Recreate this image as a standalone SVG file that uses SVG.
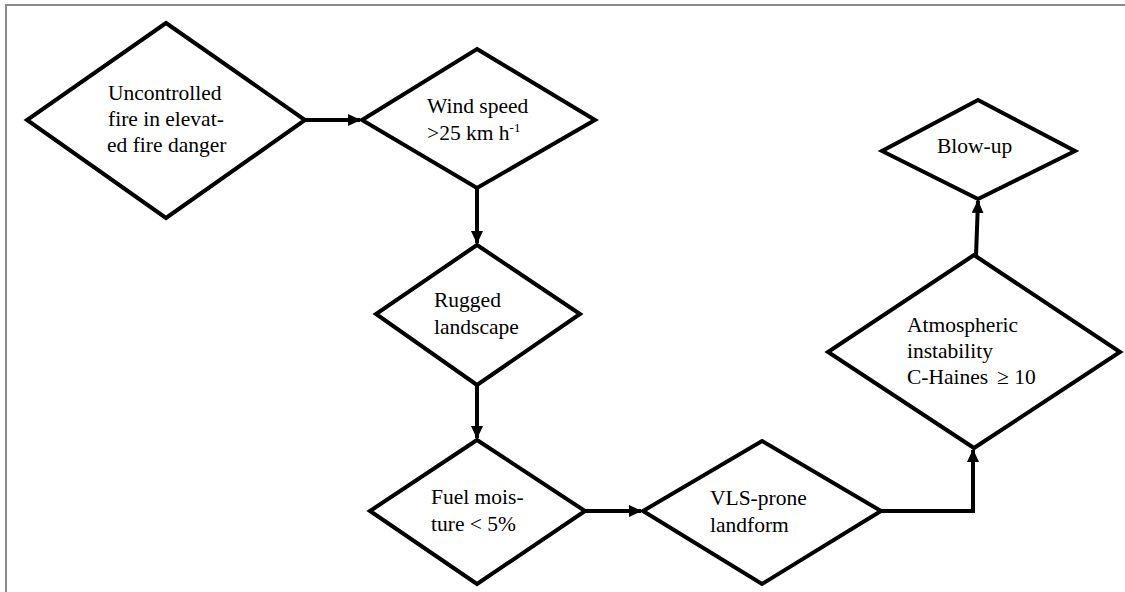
<svg xmlns="http://www.w3.org/2000/svg" width="1125" height="592" viewBox="0 0 1125 592">
<style>
.n{fill:#fff;stroke:#000;stroke-width:4;stroke-linejoin:miter}
.t{font-family:'Liberation Serif','Times New Roman',serif;font-size:21.5px;fill:#000}
.c{fill:none;stroke:#000;stroke-width:4}
</style>
<defs>
<marker id="ah" markerUnits="userSpaceOnUse" markerWidth="13" markerHeight="12" refX="12" refY="6" orient="auto">
<path d="M0,0 L13,6 L0,12 z" fill="#000"/>
</marker>
</defs>
<rect width="1125" height="592" fill="#fff"/>
<path d="M6,592 V5 H1125" fill="none" stroke="#8a8a8a" stroke-width="2"/>
<g id="connectors">
<path class="c" d="M305,120 H360" marker-end="url(#ah)"/>
<path class="c" d="M477,188 V243" marker-end="url(#ah)"/>
<path class="c" d="M477,385 V438" marker-end="url(#ah)"/>
<path class="c" d="M585,511 H641" marker-end="url(#ah)"/>
<path class="c" d="M881,511 H973 V450" marker-end="url(#ah)"/>
<path class="c" d="M976,256 L978,201" marker-end="url(#ah)"/>
</g>
<g id="n1">
<polygon class="n" points="166,23 305,120 166,218 27,120"/>
<text class="t"><tspan x="108" y="100">Uncontrolled</tspan><tspan x="108" y="126">fire in elevat-</tspan><tspan x="107" y="152">ed fire danger</tspan></text>
</g>
<g id="n2">
<polygon class="n" points="477,49 595,120 477,188 362,120"/>
<text class="t"><tspan x="427" y="113">Wind speed</tspan><tspan x="427" y="140">&gt;25 km h</tspan><tspan font-size="13" dy="-8">-1</tspan></text>
</g>
<g id="n3">
<polygon class="n" points="477,245 580,314 477,385 376,314"/>
<text class="t"><tspan x="434" y="307">Rugged</tspan><tspan x="434" y="334">landscape</tspan></text>
</g>
<g id="n4">
<polygon class="n" points="477,440 585,511 477,584 370,511"/>
<text class="t"><tspan x="431" y="504">Fuel mois-</tspan><tspan x="431" y="531">ture &lt; 5%</tspan></text>
</g>
<g id="n5">
<polygon class="n" points="762,441 881,511 762,584 643,511"/>
<text class="t"><tspan x="710" y="505">VLS-prone</tspan><tspan x="710" y="532">landform</tspan></text>
</g>
<g id="n6">
<polygon class="n" points="974,255 1120,352 974,448 828,352"/>
<text class="t"><tspan x="907" y="332">Atmospheric</tspan><tspan x="907" y="358">instability</tspan><tspan x="907" y="384">C-Haines</tspan><tspan x="997" y="384">≥ 10</tspan></text>
</g>
<g id="n7">
<polygon class="n" points="978,100 1075,151 978,199 882,151"/>
<text class="t" x="937" y="153">Blow-up</text>
</g>
</svg>
